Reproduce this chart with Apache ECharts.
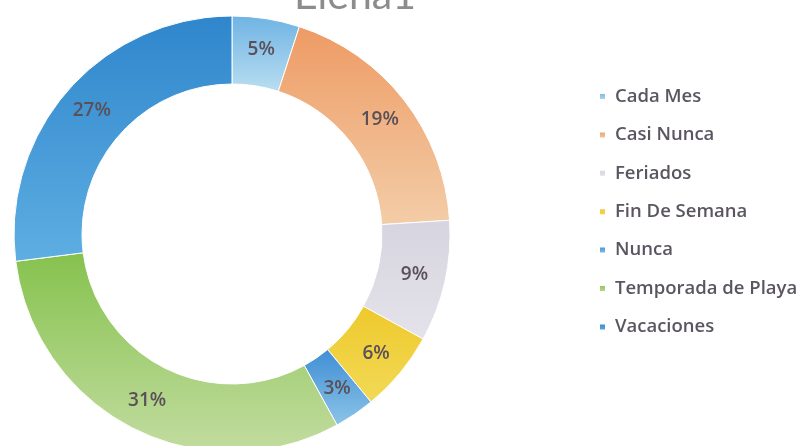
<!DOCTYPE html>
<html>
<head>
<meta charset="utf-8">
<script src="https://cdn.jsdelivr.net/npm/echarts@6/dist/echarts.min.js"></script>
<style>
  html, body { margin: 0; padding: 0; background: #fff; }
  #showChart { width: 811px; height: 446px; }
</style>
</head>
<body>
<div id="showChart"></div>
<script>
// datos
var categorias = ['Cada Mes', 'Casi Nunca', 'Feriados', 'Fin De Semana', 'Nunca', 'Temporada de Playa', 'Vacaciones'];
var valores = [5, 19, 9, 6, 3, 31, 27];
var colores = [
    ['#6fb3e4', '#b9def0'],
    ['#ee9b64', '#f3cda8'],
    ['#d6d4de', '#e4e2ea'],
    ['#eec92c', '#f2d956'],
    ['#3f8ed4', '#8cc4e8'],
    ['#86c24e', '#c2dca0'],
    ['#2f86cc', '#5eaee2']
];

var data = [];
for (var i = 0; i < categorias.length; i++) {
    data.push({
        name: categorias[i],
        value: valores[i],
        itemStyle: {
            color: new echarts.graphic.LinearGradient(0, 0, 0, 1, [
                { offset: 0, color: colores[i][0] },
                { offset: 1, color: colores[i][1] }
            ])
        }
    });
}

var option = {
    animation: false,
    backgroundColor: '#ffffff',
    title: {
        text: 'Elena1',
        left: 350,
        top: -30,
        textAlign: 'center',
        textStyle: { fontSize: 41, fontWeight: 'normal', color: '#8c8c8c', fontFamily: 'Lato' }
    },
    legend: {
        orient: 'vertical',
        left: 593,
        top: 82,
        itemWidth: 7,
        itemHeight: 7,
        itemGap: 19.4,
        icon: 'rect',
        data: categorias,
        textStyle: { fontSize: 18.5, fontWeight: 600, color: '#5a5560', fontFamily: 'Open Sans', padding: [0, 0, 0, 4] }
    },
    series: [{
        type: 'pie',
        center: [232, 234],
        radius: [150, 218],
        startAngle: 90,
        clockwise: true,
        avoidLabelOverlap: false,
        label: {
            show: true,
            position: 'inside',
            formatter: '{d}%',
            fontSize: 19,
            fontWeight: 600,
            color: '#5a5058',
            fontFamily: 'Open Sans'
        },
        labelLine: { show: false },
        itemStyle: { borderColor: '#fff', borderWidth: 1 },
        data: data
    }]
};

var chartOutChar = echarts.init(document.getElementById('showChart'));
chartOutChar.setOption(option);
</script>
</body>
</html>
